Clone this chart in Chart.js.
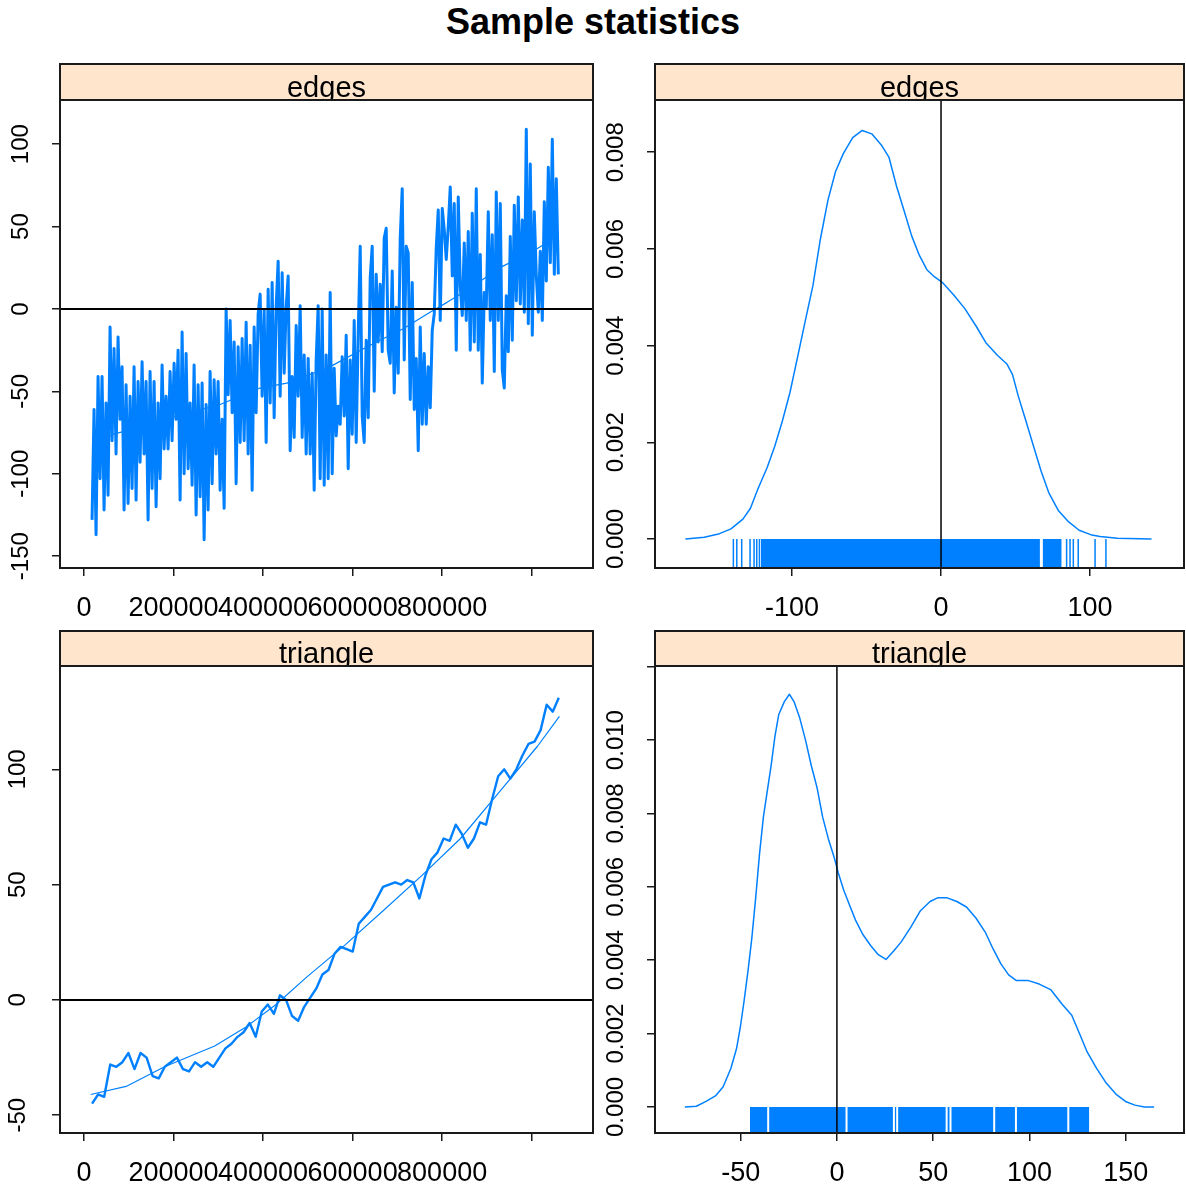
<!DOCTYPE html>
<html lang="en">
<head>
<meta charset="UTF-8">
<title>Sample statistics</title>
<script src="https://cdn.jsdelivr.net/npm/chart.js@4.4.1/dist/chart.umd.min.js"></script>
<style>
    html, body { margin: 0; padding: 0; background: #fff; }
    body { width: 1186px; height: 1194px; position: relative; overflow: hidden; }
    .title {
        position: absolute; left: 0; top: 2px; width: 1186px;
        text-align: center; font: bold 36px 'Liberation Sans', Arial, sans-serif;
        line-height: 40px; color: #000;
    }
    canvas { position: absolute; }
</style>
</head>
<body>
<div class="title">Sample statistics</div>
<canvas id="c1" width="600" height="580" style="left:0;top:40px"></canvas>
<canvas id="c2" width="593" height="580" style="left:593px;top:40px"></canvas>
<canvas id="c3" width="600" height="574" style="left:0;top:620px"></canvas>
<canvas id="c4" width="593" height="574" style="left:593px;top:620px"></canvas>

<script>
// ---- data ----
const iterTicks = [0, 200000, 400000, 600000, 800000, 1000000];
const iterLabels = ['0', '200000', '400000', '600000', '800000', ''];

// edges trace, one value every 4470 iterations from 18000
const edgesStart = 18000, edgesStep = 4470;
const edgesTrace = [
    -128,-61,-137,-41,-103,-41,-122,-57,-113,-11,
    -80,-24,-88,-17,-67,-35,-122,-46,-118,-53,
    -109,-35,-116,-44,-93,-32,-88,-44,-128,-38,
    -109,-44,-120,-57,-103,-34,-85,-53,-85,-38,
    -80,-33,-67,-25,-116,-14,-100,-27,-97,-57,
    -107,-34,-125,-46,-114,-45,-140,-58,-122,-38,
    -106,-43,-88,-44,-110,-67,-121,0,-52,-7,
    -63,-20,-106,-23,-81,-18,-80,-8,-88,-22,
    -110,-11,-63,-3,9,-53,-1,-81,12,-57,
    16,-66,1,29,-53,22,-39,1,20,-86,
    -41,-78,-10,-53,2,-78,-28,-88,-30,-88,
    -39,-110,-31,2,-103,
    0,-107,-28,-103,10,-100,-36,-77,-59,-70,
    -29,-65,-16,-97,-31,-76,-7,-81,-15,38,
    -65,-81,-19,-66,19,38,-50,21,-20,15,
    -26,43,49,-25,-33,23,-51,1,-39,43,
    73,-31,38,34,-55,16,-61,-30,-86,-11,
    -70,-27,-70,-35,-60,-13,-3,37,60,-7,
    61,48,30,50,74,20,64,-25,68,14,
    -4,40,-7,47,-25,58,-20,73,-25,33,
    -45,10,1,59,-7,45,-38,71,-7,64,
    -37,-48,8,-26,44,-19,63,5,68,3,
    54,-2,109,-9,88,-16,59,20,-2,35,
    -7,65,17,86,28,103,21,79,21
];
const edgesSmoothX = [20000, 65000, 154000, 207000, 304000, 393000, 453000, 512000, 550000, 639000, 713000, 773000, 811000, 847000, 936000, 1003000, 1056000];
const edgesSmoothY = [-82, -76, -70, -65, -58, -48, -45, -39, -35, -22, -12, -2, 4, 10, 26, 35, 44];

// triangle trace, one value every 13540 iterations from 18000
const triStart = 18000, triStep = 13540;
const triTrace = [
    -45,-41,-42,-28,-29,-27,-23,-30,-23,-25,
    -33,-34,-29,-27,-25,-30,-31,-27,-29,-27,
    -29,-25,-21,-19,-16,-14,-10,-16,-5,-2,
    -6,2,0,-7,-9,-3,1,5,11,13,
    20,23,22,21,33,36,39,44,49,50,
    51,50,52,51,44,54,61,64,70,69,
    76,72,66,70,77,76,87,97,100,96,
    100,106,111,112,117,128,125,131
];
const triSmoothX = [15000, 94000, 180000, 292000, 360000, 429000, 498000, 584000, 670000, 755000, 841000, 927000, 1013000, 1062000];
const triSmoothY = [-41, -37.5, -29, -20, -12, -2, 10, 24, 39, 54, 70, 90, 110, 123];

// edges density
const edgesDensX = [-171.6,-158.9,-148.7,-141,-133,-128,-123,-116.7,-111.6,-106.5,-101.4,-96.3,-91.2,-86,-81,-75.9,-70.8,-65.6,-59.3,-52.9,-46.5,-40.1,-35,-29.9,-24.8,-19.7,-14.6,-9.5,-4.3,0.8,8.4,16.1,23.8,30.1,37.8,44.2,48,51.9,57,62.1,67.2,72.3,78.7,85.1,92.7,100.4,106.8,118.3,141.3];
const edgesDensY = [0,0.000037,0.00011,0.00021,0.00041,0.00063,0.00103,0.00148,0.00192,0.00244,0.00303,0.00376,0.0045,0.00524,0.0062,0.00701,0.0076,0.00797,0.0083,0.00845,0.00838,0.00815,0.0079,0.0073,0.00679,0.00627,0.00587,0.00557,0.00542,0.00531,0.00505,0.00476,0.00439,0.00406,0.0038,0.00362,0.0034,0.00295,0.00244,0.00192,0.0014,0.00096,0.00059,0.00037,0.00018,0.00009,0.00005,0.000015,0];
const edgesRugLines = [-139.4, -137.1, -133.8, -128.2, -125.5, -123.7, -121.9, 84.3, 86.6, 88.8, 92.1, 103.4, 110.7];
const edgesRugBands = [[-121, 66.4], [68.2, 81]];

// triangle density
const triDensX = [-79,-73,-68,-63.1,-59.1,-55.1,-52.1,-50.1,-48.2,-46.2,-44.2,-42.2,-40.2,-38.2,-36.2,-34.2,-32.2,-30.2,-27.3,-24.7,-22.3,-19.3,-16.3,-13.3,-10.3,-7.4,-4.4,-1.4,0.6,3.6,6.6,9.6,13.5,17.5,21.5,25.5,29.5,33.4,38.4,43.4,48.4,52.3,57.3,62.3,67.3,72.2,77.2,81.2,85.2,89.2,93.1,99.1,105.1,111,117,122,126,130,134.9,139.9,144.9,149.9,154.8,159.8,164.8];
const triDensY = [0,0.00002,0.00015,0.0003,0.00055,0.00105,0.0016,0.0022,0.0029,0.0037,0.0046,0.0057,0.0069,0.0079,0.0086,0.0093,0.0101,0.0107,0.01105,0.01125,0.01105,0.0106,0.01,0.0093,0.0087,0.0079,0.0073,0.0068,0.0064,0.0059,0.0055,0.0051,0.0047,0.0044,0.00415,0.00402,0.00425,0.0045,0.0049,0.00535,0.0056,0.0057,0.0057,0.0056,0.00545,0.00515,0.00475,0.0043,0.0039,0.0036,0.00345,0.00345,0.00335,0.0032,0.0028,0.0025,0.002,0.0015,0.00105,0.00065,0.00035,0.00015,0.00005,0,0];
const triRugBands = [[-45.2, 131.1]];
const triRugGaps = [-35.7, 5.0, 29.6, 31.3, 57.0, 59.0, 81.7, 93.0, 120.2];

// tick values / labels
const edgesTraceYTicks = [-150, -100, -50, 0, 50, 100];
const triTraceYTicks = [-50, 0, 50, 100];
const edgesDensXTicks = [-100, 0, 100];
const edgesDensYTicks = [0, 0.002, 0.004, 0.006, 0.008];
const edgesDensYLabels = ['0.000', '0.002', '0.004', '0.006', '0.008'];
const triDensXTicks = [-50, 0, 50, 100, 150];
const triDensYTicks = [0, 0.002, 0.004, 0.006, 0.008, 0.010, 0.012];
const triDensYLabels = ['0.000', '0.002', '0.004', '0.006', '0.008', '0.010', ''];

// ---- drawing ----
const BLUE = '#0080ff';
const FONT = "'Liberation Sans', Arial, sans-serif";

// peach strip with the panel name, plus the panel box
const stripPlugin = {
    id: 'strip',
    afterDraw(chart, args, opts) {
        const { ctx, chartArea: a } = chart;
        const top = opts.top, h = a.top - top, w = a.right - a.left;
        ctx.save();
        ctx.fillStyle = '#ffe5cc';
        ctx.fillRect(a.left, top, w, h);
        ctx.beginPath();
        ctx.rect(a.left, top, w, h);
        ctx.clip();
        ctx.fillStyle = '#000';
        ctx.font = '29px ' + FONT;
        ctx.textAlign = 'center';
        ctx.textBaseline = 'alphabetic';
        ctx.fillText(opts.text, (a.left + a.right) / 2, a.top - 3);
        ctx.restore();
        ctx.save();
        ctx.strokeStyle = '#1a1a1a';
        ctx.lineWidth = 2;
        ctx.strokeRect(a.left, top, w, h);
        ctx.strokeRect(a.left, a.top, w, a.bottom - a.top);
        ctx.restore();
    }
};

function pts(xs, ys) {
    return xs.map((x, i) => ({ x: x, y: ys[i] }));
}

function line(data, color, width) {
    return { data: data, borderColor: color, borderWidth: width, pointRadius: 0, tension: 0, borderJoinStyle: 'round', fill: false };
}

function rugLines(xs, y, color, radius, width) {
    return {
        data: xs.map(x => ({ x: x, y: y })), showLine: false,
        pointStyle: 'line', pointRotation: 90, pointRadius: radius,
        pointBorderColor: color, pointBorderWidth: width, pointBackgroundColor: color
    };
}

function rugBand(band, yMin) {
    return {
        data: [{ x: band[0], y: 0 }, { x: band[1], y: 0 }],
        borderColor: 'rgba(0,0,0,0)', borderWidth: 0, pointRadius: 0,
        backgroundColor: BLUE, fill: { value: yMin }
    };
}

function makeChart(id, cfg, datasets) {
    new Chart(document.getElementById(id), {
        type: 'line',
        data: { datasets: datasets },
        plugins: [stripPlugin],
        options: {
            responsive: false, animation: false, devicePixelRatio: 1,
            layout: { autoPadding: false, padding: { top: cfg.padTop, right: cfg.padRight, bottom: 0, left: 0 } },
            plugins: {
                legend: { display: false }, tooltip: { enabled: false },
                strip: { text: cfg.strip, top: cfg.stripTop }
            },
            scales: {
                x: {
                    type: 'linear', min: cfg.xMin, max: cfg.xMax,
                    afterBuildTicks: s => { s.ticks = cfg.xTicks.map(v => ({ value: v })); },
                    afterFit: s => { s.height = cfg.xHeight; },
                    ticks: {
                        autoSkip: false, maxRotation: 0, minRotation: 0, padding: 16, color: '#000',
                        font: { family: FONT, size: 27 },
                        callback: (v, i) => cfg.xLabels[i]
                    },
                    grid: { drawOnChartArea: false, drawTicks: true, tickLength: 8, color: '#1a1a1a', lineWidth: 1.5 },
                    border: { display: false }
                },
                y: {
                    type: 'linear', min: cfg.yMin, max: cfg.yMax,
                    afterBuildTicks: s => { s.ticks = cfg.yTicks.map(v => ({ value: v })); },
                    afterFit: s => { s.width = cfg.yWidth; },
                    ticks: {
                        autoSkip: false, minRotation: 90, maxRotation: 90, crossAlign: 'center',
                        padding: cfg.yPad, color: '#000',
                        font: { family: FONT, size: 24 },
                        callback: (v, i) => cfg.yLabels[i]
                    },
                    grid: { drawOnChartArea: false, drawTicks: true, tickLength: 8, color: '#1a1a1a', lineWidth: 1.5 },
                    border: { display: false }
                }
            }
        }
    });
}

// top left: edges trace
const tlX = [-53600, 1137000];
makeChart('c1', {
    strip: 'edges', stripTop: 24, padTop: 60, padRight: 7, xHeight: 52, yWidth: 60, yPad: 7,
    xMin: tlX[0], xMax: tlX[1], yMin: -157.2, yMax: 126.8,
    xTicks: iterTicks, xLabels: iterLabels,
    yTicks: edgesTraceYTicks, yLabels: edgesTraceYTicks.map(String)
}, [
    line([{ x: tlX[0], y: 0 }, { x: tlX[1], y: 0 }], '#000', 2),
    line(pts(edgesSmoothX, edgesSmoothY), BLUE, 1.2),
    line(edgesTrace.map((v, i) => ({ x: edgesStart + i * edgesStep, y: v })), BLUE, 3)
]);

// top right: edges density
const trY = [-0.0006, 0.00908];
makeChart('c2', {
    strip: 'edges', stripTop: 24, padTop: 60, padRight: 2, xHeight: 52, yWidth: 62, yPad: 1,
    xMin: -192, xMax: 163.1, yMin: trY[0], yMax: trY[1],
    xTicks: edgesDensXTicks, xLabels: edgesDensXTicks.map(String),
    yTicks: edgesDensYTicks, yLabels: edgesDensYLabels
}, [
    line([{ x: 0, y: trY[0] }, { x: 0, y: trY[1] }], '#000', 1.5),
    line(pts(edgesDensX, edgesDensY), BLUE, 1.5),
    rugLines(edgesRugLines, trY[0] / 2, BLUE, 14.5, 1.5),
    ...edgesRugBands.map(b => rugBand(b, trY[0]))
]);

// bottom left: triangle trace
makeChart('c3', {
    strip: 'triangle', stripTop: 11, padTop: 46, padRight: 7, xHeight: 61, yWidth: 60, yPad: 14,
    xMin: tlX[0], xMax: tlX[1], yMin: -57.7, yMax: 144.8,
    xTicks: iterTicks, xLabels: iterLabels,
    yTicks: triTraceYTicks, yLabels: triTraceYTicks.map(String)
}, [
    line([{ x: tlX[0], y: 0 }, { x: tlX[1], y: 0 }], '#000', 2),
    line(pts(triSmoothX, triSmoothY), BLUE, 1.2),
    line(triTrace.map((v, i) => ({ x: triStart + i * triStep, y: v })), BLUE, 2.4)
]);

// bottom right: triangle density
const brY = [-0.00071, 0.01202];
makeChart('c4', {
    strip: 'triangle', stripTop: 11, padTop: 46, padRight: 2, xHeight: 61, yWidth: 62, yPad: 1,
    xMin: -94.5, xMax: 180.3, yMin: brY[0], yMax: brY[1],
    xTicks: triDensXTicks, xLabels: triDensXTicks.map(String),
    yTicks: triDensYTicks, yLabels: triDensYLabels
}, [
    line([{ x: 0, y: brY[0] }, { x: 0, y: brY[1] }], '#000', 1.5),
    line(pts(triDensX, triDensY), BLUE, 1.5),
    rugLines(triRugGaps, brY[0] / 2, '#ffffff', 13, 2),
    ...triRugBands.map(b => rugBand(b, brY[0]))
]);
</script>
</body>
</html>
